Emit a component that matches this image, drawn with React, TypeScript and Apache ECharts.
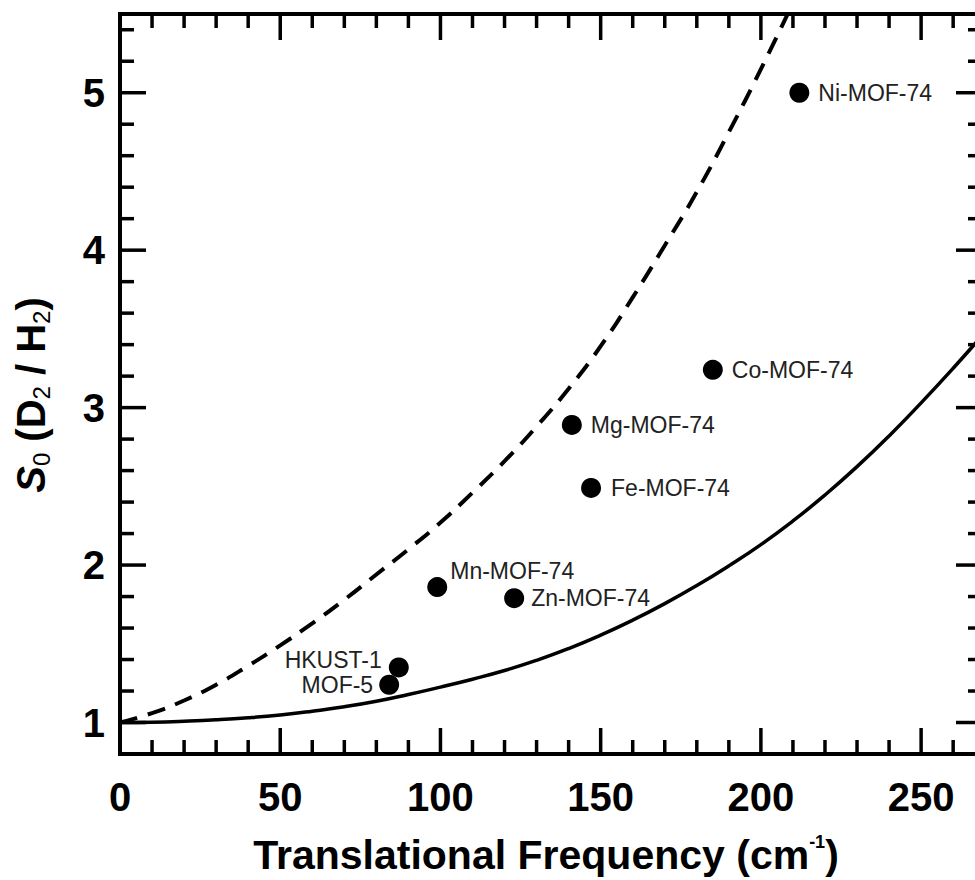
import React, { useEffect, useRef } from "react";
import * as echarts from "echarts";

// ---- axis ranges & ticks ----
const X_MIN = 0;
const X_MAX = 269;
const Y_MIN = 0.8;
const Y_MAX = 5.5;
const xTicksMajor = [0, 50, 100, 150, 200, 250];
const xTicksMinor = [10, 20, 30, 40, 60, 70, 80, 90, 110, 120, 130, 140, 160, 170, 180, 190, 210, 220, 230, 240, 260];
const yTicksMajor = [1, 2, 3, 4, 5];
const yTicksMinor = [1.2, 1.4, 1.6, 1.8, 2.2, 2.4, 2.6, 2.8, 3.2, 3.4, 3.6, 3.8, 4.2, 4.4, 4.6, 4.8, 5.2, 5.4];

// ---- model curves ----
const solidX = [0, 10, 20, 30, 40, 50, 60, 70, 80, 90, 100, 110, 120, 130, 140, 150, 160, 170, 180, 190, 200, 210, 220, 230, 240, 250, 260, 270];
const solidY = [1.0, 1.002, 1.008, 1.017, 1.03, 1.048, 1.072, 1.1, 1.135, 1.178, 1.225, 1.275, 1.33, 1.395, 1.47, 1.555, 1.65, 1.755, 1.87, 1.995, 2.13, 2.28, 2.445, 2.625, 2.82, 3.03, 3.25, 3.48];
const dashedX = [0, 10, 20, 30, 40, 50, 60, 70, 80, 90, 100, 110, 120, 130, 140, 150, 160, 170, 180, 190, 200, 210];
const dashedY = [1.0, 1.06, 1.14, 1.24, 1.36, 1.49, 1.63, 1.78, 1.94, 2.1, 2.27, 2.46, 2.66, 2.88, 3.12, 3.39, 3.7, 4.03, 4.37, 4.75, 5.15, 5.57];

// ---- measured materials ----
const materials = ["Ni-MOF-74", "Co-MOF-74", "Mg-MOF-74", "Fe-MOF-74", "Mn-MOF-74", "Zn-MOF-74", "HKUST-1", "MOF-5"];
const frequency = [212, 185, 141, 147, 99, 123, 87, 84];
const selectivity = [5.0, 3.24, 2.89, 2.49, 1.86, 1.79, 1.35, 1.24];

const FONT = "'Liberation Sans', Arial, Helvetica, sans-serif";

const labelPlacement: Record<string, any> = {
  "Ni-MOF-74": { position: "right", distance: 9 },
  "Co-MOF-74": { position: "right", distance: 9 },
  "Mg-MOF-74": { position: "right", distance: 9 },
  "Fe-MOF-74": { position: "right", distance: 10 },
  "Mn-MOF-74": { position: [23, -6], align: "left", verticalAlign: "middle" },
  "Zn-MOF-74": { position: "right", distance: 7 },
  "HKUST-1": { position: [-7, 2.3], align: "right", verticalAlign: "middle" },
  "MOF-5": { position: "left", distance: 6 },
};

const MAJOR_LEN = 26;
const MINOR_LEN = 14;

const tickLabelStyle = {
  fontFamily: FONT,
  fontSize: 40,
  fontWeight: "bold",
  color: "#000",
};

// side: "bottom" | "top" | "left" | "right"
function tickSeries(side: string, data: number[][]) {
  return {
    name: side + " ticks",
    type: "custom",
    xAxisIndex: 0,
    yAxisIndex: 0,
    clip: false,
    silent: true,
    z: 5,
    data,
    renderItem: (params: any, api: any) => {
      const v = api.value(0);
      const len = api.value(1) ? MAJOR_LEN : MINOR_LEN;
      let p: number[];
      if (side === "bottom") p = api.coord([v, Y_MIN]);
      else if (side === "top") p = api.coord([v, Y_MAX]);
      else if (side === "left") p = api.coord([X_MIN, v]);
      else p = api.coord([X_MAX, v]);
      const dx = side === "left" ? len : side === "right" ? -len : 0;
      const dy = side === "bottom" ? -len : side === "top" ? len : 0;
      return {
        type: "line",
        shape: { x1: p[0], y1: p[1], x2: p[0] + dx, y2: p[1] + dy },
        style: { stroke: "#000", lineWidth: 3.5 },
      };
    },
  };
}

export default function App() {
  const ref = useRef<HTMLDivElement>(null);

  useEffect(() => {
    if (!ref.current) return;
    const chart = echarts.init(ref.current, undefined, { renderer: "svg" });

    const solidData = solidX.map((x, i) => [x, solidY[i]]);
    const dashedData = dashedX.map((x, i) => [x, dashedY[i]]);
    const pointData = materials.map((name, i) => ({
      name,
      value: [frequency[i], selectivity[i]],
      label: labelPlacement[name],
    }));

    const xTickData = [
      ...xTicksMajor.map((v) => [v, 1]),
      ...xTicksMinor.map((v) => [v, 0]),
    ];
    const yTickData = [
      ...yTicksMajor.map((v) => [v, 1]),
      ...yTicksMinor.map((v) => [v, 0]),
    ];

    chart.setOption({
      animation: false,
      backgroundColor: "#fff",
      grid: {
        left: 120,
        top: 14,
        right: -7,
        bottom: 126,
        outerBoundsMode: "none",
        show: true,
        borderColor: "#000",
        borderWidth: 4,
        backgroundColor: "transparent",
      },
      xAxis: {
        type: "value",
        position: "bottom",
        min: X_MIN,
        max: X_MAX,
        splitLine: { show: false },
        axisLine: { show: false, onZero: false },
        axisTick: { show: false },
        axisLabel: { show: true, margin: 23, customValues: xTicksMajor, ...tickLabelStyle },
      },
      yAxis: {
        type: "value",
        position: "left",
        min: Y_MIN,
        max: Y_MAX,
        splitLine: { show: false },
        axisLine: { show: false, onZero: false },
        axisTick: { show: false },
        axisLabel: { show: true, margin: 15, padding: [8, 0, 0, 0], customValues: yTicksMajor, ...tickLabelStyle },
      },
      graphic: [
        {
          type: "text",
          x: 546,
          y: 855,
          style: {
            text: "{b|Translational Frequency (cm}{sup|-1}{b|)}",
            align: "center",
            verticalAlign: "middle",
            fill: "#000",
            rich: {
              b: { fontFamily: FONT, fontSize: 41, fontWeight: "bold", lineHeight: 44, fill: "#000" },
              sup: { fontFamily: FONT, fontSize: 18, fontWeight: "bold", lineHeight: 28, verticalAlign: "top", fill: "#000" },
            },
          },
        },
        {
          type: "text",
          x: 31,
          y: 395,
          rotation: Math.PI / 2,
          style: {
            text: "{si|S}{sub|0}{b| (D}{sub|2}{b| / H}{sub|2}{b|)}",
            align: "center",
            verticalAlign: "middle",
            fill: "#000",
            rich: {
              si: { fontFamily: FONT, fontSize: 40, fontWeight: "bold", fontStyle: "italic", lineHeight: 44, fill: "#000" },
              b: { fontFamily: FONT, fontSize: 40, fontWeight: "bold", lineHeight: 44, fill: "#000" },
              sub: { fontFamily: FONT, fontSize: 24, fontWeight: "normal", lineHeight: 24, verticalAlign: "bottom", fill: "#000" },
            },
          },
        },
      ],
      series: [
        tickSeries("bottom", xTickData),
        tickSeries("top", xTickData),
        tickSeries("left", yTickData),
        tickSeries("right", yTickData),
        {
          name: "solid model",
          type: "line",
          data: solidData,
          smooth: true,
          showSymbol: false,
          symbol: "none",
          clip: true,
          lineStyle: { color: "#000", width: 3.5 },
          silent: true,
        },
        {
          name: "dashed model",
          type: "line",
          data: dashedData,
          smooth: true,
          showSymbol: false,
          symbol: "none",
          clip: true,
          lineStyle: { color: "#000", width: 4, type: [18, 11] },
          silent: true,
        },
        {
          name: "materials",
          type: "scatter",
          data: pointData,
          symbol: "circle",
          symbolSize: 20,
          itemStyle: { color: "#000", opacity: 1 },
          label: {
            show: true,
            formatter: "{b}",
            fontFamily: FONT,
            fontSize: 23,
            color: "#222",
          },
          silent: true,
        },
      ],
    });

    return () => chart.dispose();
  }, []);

  return (
    <div
      ref={ref}
      style={{ position: "absolute", left: 0, top: 0, width: 975, height: 880, background: "#fff" }}
    />
  );
}
